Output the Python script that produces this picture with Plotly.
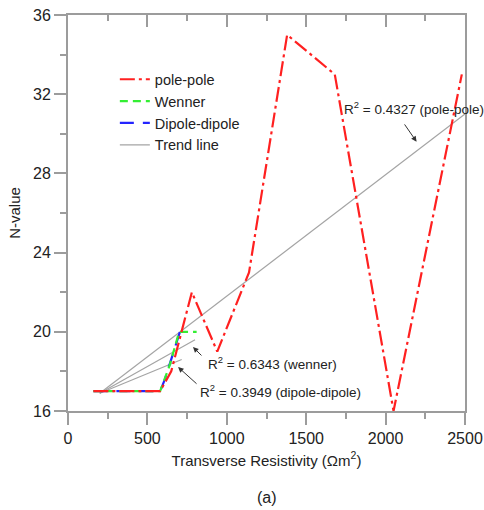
import plotly.graph_objects as go

# ---- data ----
pole_x = [160, 580, 650, 780, 940, 1140, 1380, 1680, 2050, 2480]
pole_y = [17, 17, 18, 22, 19, 23, 35, 33, 16, 33]

wenner_x = [160, 580, 640, 700, 810]
wenner_y = [17, 17, 18.3, 20, 20]

dipole_x = [160, 580, 610, 660, 705]
dipole_y = [17, 17, 17.6, 18.9, 20]

trend_pole_x = [200, 2500]
trend_pole_y = [16.9, 31.0]
trend_wenner_x = [200, 800]
trend_wenner_y = [16.9, 19.6]
trend_dipole_x = [200, 716]
trend_dipole_y = [16.9, 18.6]

x_ticks = [0, 500, 1000, 1500, 2000, 2500]
y_ticks = [16, 20, 24, 28, 32, 36]

FONT = "Liberation Sans, Arial, sans-serif"
AXC = "#9c9c9c"
TREND = "#a4a4a4"

fig = go.Figure()

fig.add_trace(go.Scatter(x=trend_pole_x, y=trend_pole_y, mode="lines",
                         line=dict(color=TREND, width=1.2), name="Trend line",
                         legendrank=4, showlegend=True))
fig.add_trace(go.Scatter(x=trend_wenner_x, y=trend_wenner_y, mode="lines",
                         line=dict(color=TREND, width=1.2), showlegend=False))
fig.add_trace(go.Scatter(x=trend_dipole_x, y=trend_dipole_y, mode="lines",
                         line=dict(color=TREND, width=1.2), showlegend=False))

fig.add_trace(go.Scatter(x=dipole_x, y=dipole_y, mode="lines", name="Dipole-dipole",
                         line=dict(color="#2424ff", width=2.2, dash="14px,9px"),
                         legendrank=3))
fig.add_trace(go.Scatter(x=wenner_x, y=wenner_y, mode="lines", name="Wenner",
                         line=dict(color="#33ee33", width=2.2, dash="8px,5px"),
                         legendrank=2))
fig.add_trace(go.Scatter(x=pole_x, y=pole_y, mode="lines", name="pole-pole",
                         line=dict(color="#ff2020", width=2.2, dash="15px,4px,3px,4px"),
                         legendrank=1))

fig.add_trace(go.Scatter(x=[0, 2500], y=[16, 16], xaxis="x2", mode="markers",
                         marker=dict(opacity=0), showlegend=False, hoverinfo="skip"))

fig.update_layout(
    width=484, height=510,
    margin=dict(l=68, r=19, t=15, b=99),
    paper_bgcolor="white", plot_bgcolor="white",
    font=dict(family=FONT, color="#222", size=15),
    showlegend=True,
    legend=dict(x=0.118, y=0.878, xanchor="left", yanchor="top",
                bgcolor="rgba(0,0,0,0)", font=dict(size=14.5, family=FONT),
                tracegroupgap=1),
    xaxis=dict(range=[0, 2500], tickvals=x_ticks, ticks="outside", ticklen=12,
               tickwidth=1.5, tickcolor=AXC, showline=True, linecolor=AXC,
               linewidth=1.8, mirror=True, showgrid=False, zeroline=False,
               tickfont=dict(size=16), automargin=False, ticklabeloverflow="allow",
               minor=dict(dtick=250, ticks="outside", ticklen=6, tickcolor=AXC,
                          tickwidth=1.5, showgrid=False),
               title=dict(text="Transverse Resistivity (Ωm<sup>2</sup>)",
                          font=dict(size=15), standoff=9)),
    xaxis2=dict(range=[0, 2500], overlaying="x", side="top", matches="x",
                tickvals=x_ticks, ticks="inside", ticklen=12, tickwidth=1.5,
                tickcolor=AXC, showticklabels=False, showline=False,
                showgrid=False, zeroline=False, automargin=False,
                minor=dict(dtick=250, ticks="inside", ticklen=6, tickcolor=AXC,
                           tickwidth=1.5, showgrid=False)),
    yaxis=dict(range=[16, 36], tickvals=y_ticks, ticks="outside", ticklen=12,
               tickwidth=1.5, tickcolor=AXC, showline=True, linecolor=AXC,
               linewidth=1.8, mirror=True, showgrid=False, zeroline=False,
               tickfont=dict(size=16), automargin=False, ticklabeloverflow="allow",
               minor=dict(dtick=2, ticks="outside", ticklen=6, tickcolor=AXC,
                          tickwidth=1.5, showgrid=False),
               title=dict(text="N-value", font=dict(size=15), standoff=9)),
)

ann_font = dict(size=13.5, family=FONT, color="#222")
fig.add_annotation(x=2176, y=31.3, text="R<sup>2</sup> = 0.4327 (pole-pole)",
                   showarrow=False, font=ann_font)
fig.add_annotation(x=1287, y=18.42, text="R<sup>2</sup> = 0.6343 (wenner)",
                   showarrow=False, font=ann_font)
fig.add_annotation(x=1337, y=17.03, text="R<sup>2</sup> = 0.3949 (dipole-dipole)",
                   showarrow=False, font=ann_font)

arrow_kw = dict(text="", showarrow=True, arrowhead=2, arrowsize=1.1,
                arrowwidth=1, arrowcolor="#333", axref="x", ayref="y")
fig.add_annotation(x=2195, y=29.6, ax=2113, ay=30.55, **arrow_kw)
fig.add_annotation(x=787, y=19.23, ax=850, ay=18.73, **arrow_kw)
fig.add_annotation(x=693, y=18.22, ax=819, ay=17.31, **arrow_kw)

fig.add_annotation(x=0.5, y=-0.218, xref="paper", yref="paper", text="(a)",
                   showarrow=False, font=dict(size=16, family=FONT, color="#222"),
                   yanchor="middle")

fig.write_html(
    "out.html",
    config={"displayModeBar": False},
    post_script="document.body.style.margin='0';document.body.style.overflow='hidden';",
)
